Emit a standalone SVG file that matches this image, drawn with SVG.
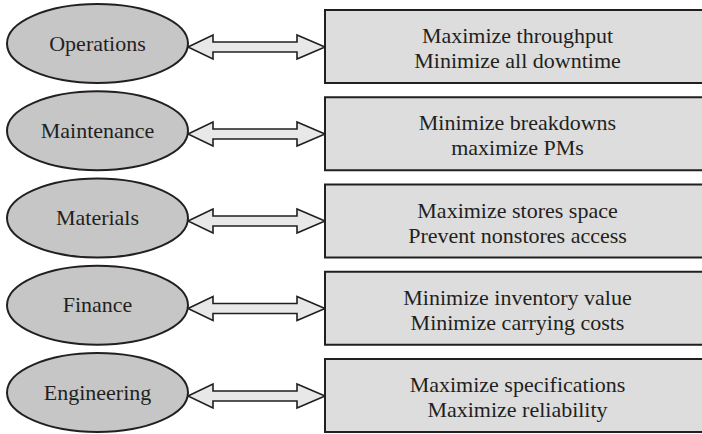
<svg xmlns="http://www.w3.org/2000/svg" xmlns:xlink="http://www.w3.org/1999/xlink" width="702" height="434" viewBox="0 0 702 434">
  <style>
    .dept { fill: #c6c6c6; stroke: #231f20; stroke-width: 2; }
    .goal { fill: #dddddd; stroke: #231f20; stroke-width: 2; }
    .link { fill: #e8e8e8; stroke: #231f20; stroke-width: 1.6; stroke-linejoin: miter; }
    text { font-family: "Liberation Serif", "DejaVu Serif", serif; font-size: 22px; fill: #231f20; text-anchor: middle; }
  </style>
  <defs>
    <!-- double-headed block arrow, tip-to-tip 188..325, centred on y=0 -->
    <polygon id="dbl" class="link" points="188,0 213,-12 213,-5 297,-5 297,-12 325,0 297,12 297,5 213,5 213,12"/>
  </defs>

  <rect width="702" height="434" fill="#ffffff"/>

  <g id="connectors">
    <use xlink:href="#dbl" transform="translate(0,47)"/>
    <use xlink:href="#dbl" transform="translate(0,134)"/>
    <use xlink:href="#dbl" transform="translate(0,221)"/>
    <use xlink:href="#dbl" transform="translate(0,308.5)"/>
    <use xlink:href="#dbl" transform="translate(0,396)"/>
  </g>

  <g id="operations">
    <ellipse class="dept" cx="97.5" cy="43.5" rx="90.5" ry="39.5"/>
    <text x="97.5" y="50.5">Operations</text>
  </g>
  <g id="operations-goals">
    <rect class="goal" x="325" y="10" width="390" height="73"/>
    <text x="517.5" y="43">Maximize throughput</text>
    <text x="517.5" y="68">Minimize all downtime</text>
  </g>

  <g id="maintenance">
    <ellipse class="dept" cx="97.5" cy="130.75" rx="90.5" ry="39.5"/>
    <text x="97.5" y="137.75">Maintenance</text>
  </g>
  <g id="maintenance-goals">
    <rect class="goal" x="325" y="97.25" width="390" height="73"/>
    <text x="517.5" y="130.25">Minimize breakdowns</text>
    <text x="517.5" y="155.25">maximize PMs</text>
  </g>

  <g id="materials">
    <ellipse class="dept" cx="97.5" cy="218" rx="90.5" ry="39.5"/>
    <text x="97.5" y="225">Materials</text>
  </g>
  <g id="materials-goals">
    <rect class="goal" x="325" y="184.5" width="390" height="73"/>
    <text x="517.5" y="217.5">Maximize stores space</text>
    <text x="517.5" y="242.5">Prevent nonstores access</text>
  </g>

  <g id="finance">
    <ellipse class="dept" cx="97.5" cy="305.25" rx="90.5" ry="39.5"/>
    <text x="97.5" y="312.25">Finance</text>
  </g>
  <g id="finance-goals">
    <rect class="goal" x="325" y="271.75" width="390" height="73"/>
    <text x="517.5" y="304.75">Minimize inventory value</text>
    <text x="517.5" y="329.75">Minimize carrying costs</text>
  </g>

  <g id="engineering">
    <ellipse class="dept" cx="97.5" cy="392.5" rx="90.5" ry="39.5"/>
    <text x="97.5" y="399.5">Engineering</text>
  </g>
  <g id="engineering-goals">
    <rect class="goal" x="325" y="359" width="390" height="73"/>
    <text x="517.5" y="392">Maximize specifications</text>
    <text x="517.5" y="417">Maximize reliability</text>
  </g>
</svg>
